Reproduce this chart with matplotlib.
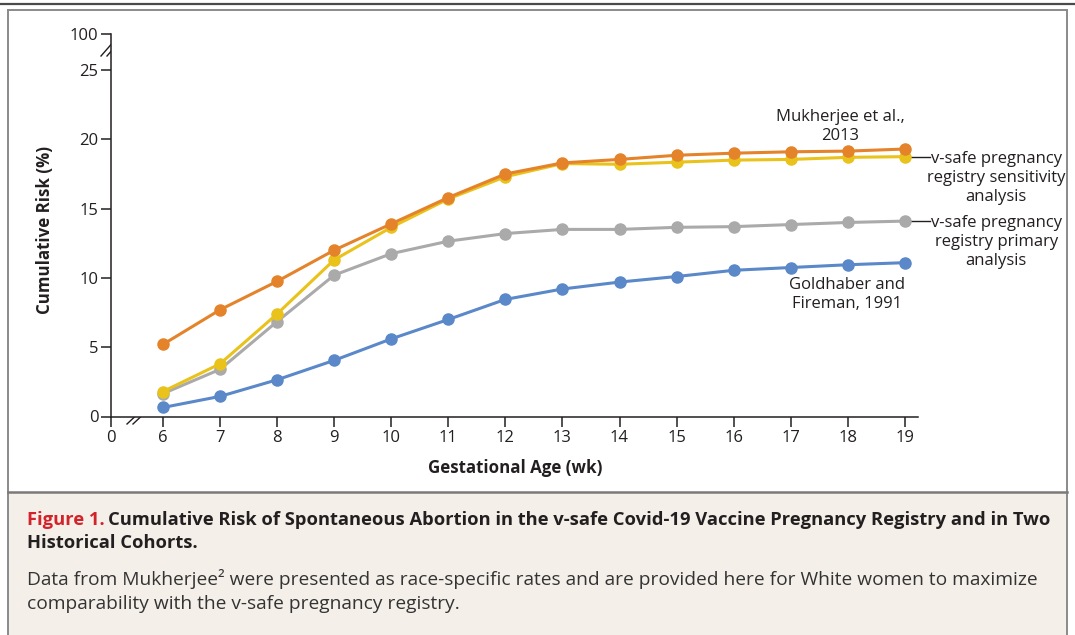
import numpy as np
import matplotlib
matplotlib.use('Agg')
import matplotlib.pyplot as plt
from matplotlib.patches import Rectangle
from matplotlib.lines import Line2D

plt.rcParams.update({'font.family': ['Open Sans', 'DejaVu Sans'], 'font.size': 12})

# ── data ──
weeks = [6, 7, 8, 9, 10, 11, 12, 13, 14, 15, 16, 17, 18, 19]
mukherjee = [5.2, 7.7, 9.75, 12.0, 13.9, 15.8, 17.5, 18.3, 18.55, 18.85, 19.0, 19.1, 19.15, 19.3]
vsafe_sens = [1.8, 3.8, 7.4, 11.3, 13.65, 15.7, 17.3, 18.25, 18.2, 18.35, 18.5, 18.55, 18.7, 18.75]
vsafe_prim = [1.65, 3.4, 6.85, 10.2, 11.75, 12.65, 13.2, 13.5, 13.5, 13.65, 13.7, 13.85, 14.0, 14.1]
goldhaber = [0.65, 1.45, 2.65, 4.05, 5.6, 7.0, 8.45, 9.2, 9.7, 10.1, 10.55, 10.75, 10.95, 11.1]

ytick_vals = [0, 5, 10, 15, 20, 25]
ytick_top_label = '100'
xtick_labels = ['0'] + [str(w) for w in weeks]

c_orange = '#e4832a'
c_yellow = '#e9c21b'
c_gray = '#aaaaaa'
c_blue = '#5a88c8'
c_text = '#231f20'

W, H = 1075, 635
fig = plt.figure(figsize=(W / 100, H / 100), dpi=100)

# ── frame / caption panel ──
bg = fig.add_axes([0, 0, 1, 1])
bg.set_xlim(0, W); bg.set_ylim(H, 0); bg.axis('off')
bg.add_patch(Rectangle((8, 492), W - 16, H - 492, facecolor='#f4f0e9', edgecolor='none'))
bg.plot([0, W], [3.5, 3.5], color='#4a4a4a', lw=1.6)
bg.plot([8, W - 8], [10, 10], color='#8a8a8a', lw=1.4)
bg.plot([8, 8], [10, H], color='#8a8a8a', lw=1.4)
bg.plot([W - 8, W - 8], [10, H], color='#8a8a8a', lw=1.4)
bg.plot([8, W - 8], [492, 492], color='#7a7a7a', lw=1.8)

cap_bold = 13.2
cap_reg = 13.8
bg.text(27, 520, 'Figure 1.', color='#d2232a', fontsize=cap_bold, fontweight='bold', va='center')
bg.text(108, 520, 'Cumulative Risk of Spontaneous Abortion in the v-safe Covid-19 Vaccine Pregnancy Registry and in Two',
        color=c_text, fontsize=cap_bold, fontweight='bold', va='center')
bg.text(27, 543, 'Historical Cohorts.', color=c_text, fontsize=cap_bold, fontweight='bold', va='center')
bg.text(27, 579, 'Data from Mukherjee² were presented as race-specific rates and are provided here for White women to maximize',
        color='#333333', fontsize=cap_reg, va='center')
bg.text(27, 604, 'comparability with the v-safe pregnancy registry.', color='#333333', fontsize=cap_reg, va='center')

# ── chart ──
x0_pos = 5.09
y_top = 27.6
ax = fig.add_axes([111 / W, (H - 416.5) / H, (918 - 111) / W, (416.5 - 34) / H])
ax.set_xlim(x0_pos, 19.23)
ax.set_ylim(0, y_top)

for vals, col in [(goldhaber, c_blue), (vsafe_prim, c_gray), (vsafe_sens, c_yellow), (mukherjee, c_orange)]:
    ax.plot(weeks, vals, color=col, lw=2.2, marker='o', ms=8, zorder=3, clip_on=False)

for s in ['top', 'right']:
    ax.spines[s].set_visible(False)
for s in ['left', 'bottom']:
    ax.spines[s].set_color(c_text)
    ax.spines[s].set_linewidth(1.1)

ax.set_xticks([x0_pos] + weeks)
ax.set_xticklabels(xtick_labels)
ax.set_yticks(ytick_vals + [y_top])
ax.set_yticklabels([str(v) for v in ytick_vals] + [ytick_top_label])
ax.tick_params(axis='both', colors=c_text, labelsize=12, length=7, width=1.1, pad=2)
ax.tick_params(axis='x', pad=3)

bg.text(515, 468, 'Gestational Age (wk)', fontsize=12.2, fontweight='bold', color=c_text,
        ha='center', va='center')
bg.text(45, 230, 'Cumulative Risk (%)', fontsize=12.2, fontweight='bold', color=c_text,
        ha='center', va='center', rotation=90)

# axis break marks
for dx in (-3, 3):
    bg.add_line(Line2D([104 + dx, 118 + dx], [56, 40], color=c_text, lw=1.0))
    bg.add_line(Line2D([130 + dx, 146 + dx], [424, 409], color=c_text, lw=1.0))

# annotations
ann = dict(ha='center', va='center', fontsize=12, color=c_text, linespacing=1.25)
ax.text(17.87, 20.96, 'Mukherjee et al.,\n2013', **ann)
ax.text(17.99, 8.8, 'Goldhaber and\nFireman, 1991', **ann)
ax.text(20.6, 17.2, 'v-safe pregnancy\nregistry sensitivity\nanalysis', clip_on=False, **ann)
ax.text(20.6, 12.6, 'v-safe pregnancy\nregistry primary\nanalysis', clip_on=False, **ann)
for vals in (vsafe_sens, vsafe_prim):
    ax.plot([19.0, 19.44], [vals[-1], vals[-1]], color=c_text, lw=1.0, clip_on=False, zorder=2)

fig.savefig('out.png', dpi=100)
